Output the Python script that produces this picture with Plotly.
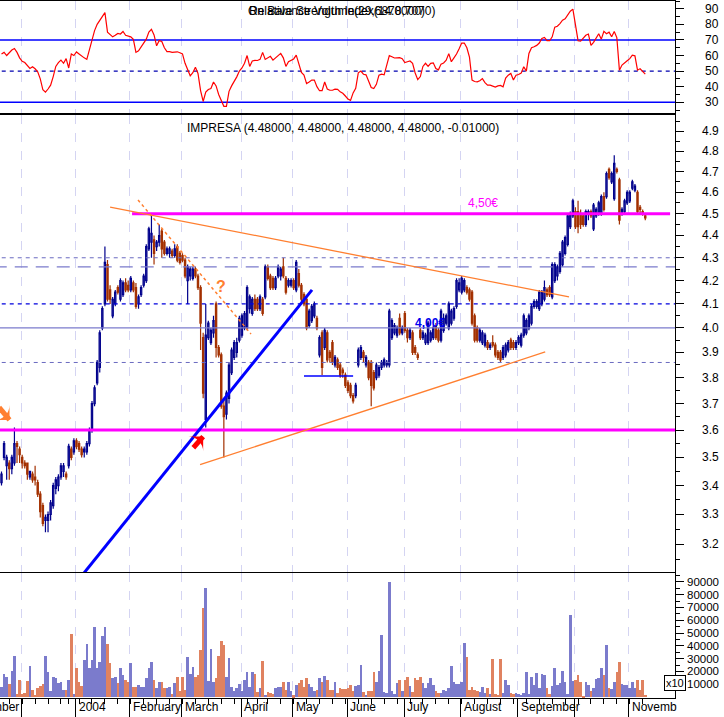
import math
import pandas as pd
import plotly.graph_objects as go

# ---------------- calendar (Euronext Lisbon trading days) ----------------
holidays = ["2003-12-25", "2003-12-26", "2004-01-01", "2004-04-09", "2004-04-12"]
trading_days = pd.bdate_range("2003-11-19", "2004-11-09")
trading_days = trading_days[~trading_days.isin(pd.to_datetime(holidays))]

# label shown after each month's first trading day ("" = no label)
month_label_text = {12: "", 1: "2004", 2: "February", 3: "March", 4: "April", 5: "May",
                    6: "June", 7: "July", 8: "August", 9: "September", 10: "", 11: "Novemb"}
left_cut_label = "November"

# ---------------- IMPRESA daily prices ----------------
opens = [3.41,3.50,3.47,3.48,3.46,3.48,3.55,3.53,3.50,3.48,
         3.48,3.43,3.44,3.43,3.41,3.37,3.33,3.28,3.28,3.30,
         3.33,3.39,3.40,3.43,3.45,3.44,3.47,3.53,3.52,3.56,
         3.55,3.53,3.52,3.52,3.55,3.60,3.70,3.78,3.84,4.00,
         4.10,4.27,4.16,4.05,4.10,4.17,4.12,4.14,4.19,4.18,
         4.16,4.19,4.17,4.10,4.14,4.18,4.20,4.34,4.37,4.38,
         4.35,4.37,4.42,4.37,4.32,4.32,4.33,4.31,4.35,4.32,
         4.31,4.29,4.20,4.22,4.21,4.25,4.22,4.17,3.96,3.64,
         3.96,3.94,3.98,4.10,3.92,3.89,3.69,3.66,3.72,3.82,
         3.88,3.90,3.95,3.97,4.00,4.00,4.08,4.06,4.12,4.12,
         4.08,4.12,4.13,4.26,4.22,4.21,4.17,4.22,4.22,4.26,
         4.21,4.18,4.18,4.20,4.16,4.23,4.18,4.14,4.12,4.01,
         4.03,4.05,4.04,3.89,3.98,3.92,3.98,3.90,3.94,3.85,
         3.87,3.85,3.83,3.81,3.78,3.77,3.73,3.73,3.85,3.88,
         3.90,3.85,3.86,3.86,3.82,3.80,3.81,3.84,3.85,3.85,
         3.85,3.96,3.98,3.97,4.04,3.98,4.06,3.99,3.96,3.98,
         3.92,3.89,3.99,3.96,3.94,3.94,3.95,3.96,4.01,3.99,
         3.95,3.99,4.02,4.00,4.02,4.04,4.09,4.16,4.15,4.16,
         4.17,4.16,4.15,4.05,4.00,3.95,3.94,3.93,3.94,3.92,
         3.94,3.93,3.90,3.90,3.88,3.89,3.91,3.95,3.94,3.92,
         3.94,3.93,3.97,3.98,4.00,4.02,4.09,4.09,4.08,4.10,
         4.12,4.16,4.17,4.13,4.20,4.22,4.24,4.27,4.32,4.36,
         4.44,4.49,4.51,4.51,4.50,4.49,4.45,4.50,4.51,4.43,
         4.49,4.50,4.50,4.58,4.58,4.71,4.65,4.57,4.71,4.66,
         4.50,4.51,4.55,4.56,4.62,4.61,4.60,4.53,4.51,4.49]
highs = [3.45,3.56,3.51,3.49,3.51,3.61,3.56,3.54,3.51,3.49,
         3.48,3.45,3.45,3.47,3.42,3.38,3.34,3.30,3.31,3.35,
         3.41,3.43,3.44,3.48,3.48,3.45,3.55,3.54,3.57,3.57,
         3.56,3.54,3.54,3.56,3.61,3.71,3.77,3.87,3.99,4.09,
         4.35,4.29,4.18,4.13,4.16,4.18,4.21,4.20,4.21,4.20,
         4.22,4.20,4.19,4.14,4.18,4.23,4.36,4.44,4.50,4.40,
         4.38,4.45,4.43,4.38,4.35,4.35,4.34,4.36,4.36,4.33,
         4.32,4.30,4.27,4.26,4.26,4.26,4.23,4.18,3.98,4.10,
         4.03,4.00,4.05,4.11,3.93,3.90,3.72,3.75,3.86,3.92,
         3.95,3.96,4.05,4.06,4.07,4.18,4.14,4.13,4.14,4.13,
         4.14,4.13,4.27,4.27,4.23,4.22,4.22,4.27,4.26,4.30,
         4.22,4.21,4.21,4.21,4.29,4.25,4.19,4.15,4.13,4.08,
         4.10,4.11,4.05,3.97,3.99,4.00,3.99,3.91,3.95,3.89,
         3.88,3.86,3.84,3.82,3.79,3.78,3.74,3.78,3.92,3.93,
         3.91,3.89,3.87,3.87,3.83,3.86,3.85,3.87,3.88,3.87,
         4.08,4.04,4.02,4.01,4.06,4.01,4.07,4.00,4.00,3.99,
         3.93,3.90,4.00,3.99,3.98,4.03,3.99,4.01,4.02,4.00,
         4.08,4.06,4.06,4.11,4.08,4.09,4.21,4.21,4.22,4.21,
         4.18,4.17,4.16,4.06,4.01,4.00,3.99,3.98,3.95,3.94,
         3.97,3.94,3.91,3.91,3.93,3.94,3.95,3.96,3.95,3.95,
         3.97,3.98,4.06,4.04,4.06,4.10,4.12,4.12,4.16,4.16,
         4.20,4.17,4.18,4.28,4.28,4.27,4.33,4.38,4.40,4.50,
         4.51,4.57,4.53,4.56,4.52,4.50,4.52,4.52,4.52,4.55,
         4.53,4.56,4.59,4.60,4.70,4.72,4.70,4.78,4.72,4.67,
         4.53,4.57,4.61,4.61,4.66,4.64,4.61,4.54,4.52,4.50]
lows = [3.40,3.49,3.42,3.42,3.44,3.47,3.48,3.48,3.46,3.46,
        3.42,3.42,3.41,3.40,3.36,3.29,3.26,3.24,3.24,3.28,
        3.32,3.37,3.38,3.42,3.43,3.42,3.46,3.49,3.51,3.53,
        3.52,3.50,3.50,3.51,3.54,3.59,3.69,3.77,3.82,3.99,
        4.09,4.11,4.10,4.04,4.09,4.14,4.11,4.13,4.15,4.15,
        4.15,4.15,4.08,4.08,4.13,4.17,4.19,4.33,4.30,4.27,
        4.33,4.35,4.30,4.31,4.31,4.30,4.30,4.30,4.28,4.27,
        4.28,4.21,4.10,4.20,4.20,4.21,4.16,3.91,3.72,3.61,
        3.95,3.93,3.96,3.88,3.88,3.68,3.50,3.64,3.70,3.81,
        3.87,3.88,3.94,3.96,3.99,3.99,4.06,4.05,4.07,4.07,
        4.07,4.05,4.12,4.20,4.16,4.16,4.16,4.21,4.20,4.21,
        4.14,4.17,4.17,4.16,4.15,4.17,4.11,4.09,3.99,4.00,
        4.02,4.04,3.99,3.88,3.81,3.91,3.86,3.86,3.85,3.84,
        3.83,3.80,3.80,3.76,3.74,3.72,3.70,3.72,3.84,3.87,
        3.86,3.84,3.79,3.69,3.75,3.79,3.80,3.83,3.84,3.84,
        3.84,3.95,3.97,3.96,3.97,3.97,3.98,3.94,3.95,3.89,
        3.89,3.87,3.95,3.95,3.93,3.93,3.94,3.95,3.95,3.94,
        3.94,3.98,4.01,3.99,4.01,4.03,4.08,4.15,4.14,4.15,
        4.14,4.11,4.01,3.94,3.94,3.94,3.93,3.92,3.91,3.91,
        3.92,3.88,3.87,3.86,3.87,3.88,3.90,3.91,3.91,3.91,
        3.93,3.92,3.96,3.97,3.99,4.01,4.08,4.08,4.07,4.09,
        4.11,4.13,4.13,4.12,4.19,4.20,4.23,4.26,4.31,4.35,
        4.43,4.48,4.43,4.41,4.43,4.44,4.44,4.47,4.48,4.42,
        4.48,4.49,4.49,4.51,4.57,4.66,4.64,4.56,4.69,4.45,
        4.49,4.50,4.54,4.55,4.61,4.60,4.50,4.50,4.49,4.47]
closes = [3.44,3.55,3.50,3.46,3.50,3.55,3.54,3.51,3.48,3.47,
          3.44,3.45,3.42,3.42,3.37,3.31,3.27,3.29,3.30,3.34,
          3.40,3.42,3.43,3.47,3.47,3.43,3.54,3.50,3.56,3.54,
          3.53,3.51,3.53,3.55,3.60,3.70,3.76,3.86,3.98,4.08,
          4.28,4.12,4.12,4.12,4.15,4.15,4.20,4.19,4.16,4.16,
          4.21,4.16,4.09,4.13,4.17,4.22,4.35,4.43,4.41,4.32,
          4.37,4.40,4.34,4.32,4.34,4.34,4.31,4.34,4.29,4.28,
          4.29,4.22,4.26,4.25,4.25,4.22,4.17,4.02,3.74,3.97,
          4.02,3.99,4.03,3.92,3.89,3.69,3.65,3.74,3.85,3.91,
          3.94,3.94,4.04,4.05,4.06,4.17,4.13,4.12,4.08,4.08,
          4.13,4.06,4.26,4.21,4.17,4.17,4.21,4.26,4.25,4.22,
          4.15,4.20,4.20,4.17,4.28,4.18,4.12,4.10,4.00,4.07,
          4.09,4.10,4.00,3.96,3.84,3.99,3.87,3.88,3.86,3.88,
          3.84,3.81,3.82,3.77,3.75,3.73,3.71,3.77,3.91,3.92,
          3.88,3.88,3.80,3.77,3.76,3.85,3.84,3.86,3.87,3.86,
          4.07,4.03,4.01,4.00,3.98,4.00,3.99,3.96,3.99,3.90,
          3.90,3.88,3.96,3.98,3.97,4.02,3.98,4.00,3.96,3.95,
          4.07,4.04,4.05,4.10,4.07,4.08,4.20,4.19,4.21,4.20,
          4.15,4.12,4.02,3.95,3.95,3.99,3.98,3.97,3.92,3.93,
          3.93,3.89,3.88,3.87,3.92,3.93,3.94,3.92,3.92,3.94,
          3.96,3.97,4.05,4.03,4.05,4.09,4.11,4.11,4.15,4.15,
          4.17,4.14,4.14,4.27,4.27,4.26,4.32,4.37,4.39,4.49,
          4.50,4.56,4.44,4.44,4.45,4.45,4.51,4.51,4.49,4.54,
          4.52,4.55,4.58,4.52,4.69,4.67,4.69,4.74,4.70,4.47,
          4.52,4.56,4.60,4.60,4.65,4.63,4.51,4.52,4.50,4.48]

# ---------------- Relative Strength Index ----------------
rsi = [61,62,60,62,63.5,64.5,62,58.5,56.3,55.5,
       53.5,51.7,52.8,51.5,49.5,45,38,36.5,38.5,41,
       46.5,53,55.4,57,55,58,52,61,60,62.3,
       61,59.5,58.5,57.5,63.5,70.5,76,80,82.5,85,
       87.5,75,73.2,72,73,74.2,73.8,75.4,73,72.4,
       72,70.4,62,63,65.5,68.5,70.5,75,76.8,73.2,
       66.2,69.6,69,65,62.5,62.5,62,62.2,62.4,61.8,
       61,55,50.5,47,49,52.5,48.5,37.5,30.5,36.5,
       38.2,38.8,43,40.5,35,31,27.4,27.4,37,40.5,
       43,46.3,50,52,55,60,53,56.5,56.9,56.8,
       57.5,62,57.5,58.5,59.5,57,58.5,60.3,61.4,58.5,
       53,56,56.8,57.8,60.3,54.5,49.2,47.5,42,43,
       44.2,44.2,40,37.4,37.5,43,38.5,37.7,37.7,38.4,
       38.3,36.7,35.8,34,32,31.2,36,39,48.9,50,
       48,47.6,44,39.5,38.8,41.5,47.4,48,47.6,53,
       60,59.2,58.4,58.5,58.6,58,55.5,56,56.5,55,
       48.8,44.5,46.5,53,55,53,55,55.3,51.6,50.8,
       54.5,55.2,57,61.2,56,58.5,61,64.4,68,68,
       65,59,44.2,43.3,43.1,43.8,45.2,42.6,41,41,
       40.2,39.7,40.5,40.8,39.9,45.5,47.4,48.5,44.3,47.4,
       47.8,48.7,52.8,50,61.3,65,65.6,66.5,68,71,
       71.6,69.5,69.5,72,78.2,78.8,80.5,82.7,83.6,86,
       88.4,89.8,79.5,69.5,69.2,71,73,73.8,66.5,68.5,
       71.5,74,70.5,75.5,74,75,72,75.4,71.5,50.6,
       53.9,55.5,56.6,58,60.2,59.8,50.6,51.5,49.6,48.1]

# ---------------- Volume ----------------
volume = [8200,17700,16000,10300,20300,32000,2300,13300,2300,3000,
          12600,24400,5100,1800,6900,9000,10000,32000,19700,4400,
          15900,14600,10800,12000,5600,5600,13000,49200,2300,22800,
          12000,9000,28700,41500,22300,28700,54400,22800,27400,48000,
          54400,41500,26200,14600,15900,10800,22300,17200,13300,12000,
          26900,8200,8200,9500,8200,8200,14600,22300,27400,13300,
          7400,11500,11500,6900,6900,8200,2300,10800,15900,4400,
          15900,5600,31300,17700,23600,15900,17200,36400,69700,85100,
          12600,37700,12000,14600,32000,44100,40800,15900,30500,8200,
          4400,7400,10000,4400,13300,19200,8200,19200,17700,3800,
          7400,28000,1800,3800,3000,2300,7400,8200,8200,11500,
          5600,11500,4400,1300,9500,10800,13300,8200,15100,10000,
          8200,4900,5600,15100,12000,16700,13300,5600,5600,12000,
          3000,7400,6400,6400,7400,9500,4900,9000,9500,24900,
          3800,1800,4900,4400,19200,11500,20500,48500,3800,3000,
          89500,4400,2300,10800,13300,4900,13300,15900,9000,3800,
          14600,13300,15900,10800,6900,10800,15100,9500,4900,3000,
          3000,5600,4900,6900,24400,12000,10000,10000,12000,42300,
          31300,5600,8200,5600,4400,3800,8200,3000,6900,2300,
          30000,2300,1800,29500,3000,13300,9500,3000,2300,3000,
          2300,1800,3000,19700,2300,15900,9500,18500,6900,17700,
          17200,7400,2300,9000,22800,9500,10800,20300,12000,2300,
          63800,12600,13300,17200,11500,500,11500,9500,4900,6900,
          14100,14600,22800,17200,40300,6900,6400,11500,19200,27400,
          10000,9500,9500,6900,12000,6900,13300,5600,13300,1800]

# ---------------- drawn levels / trendlines (trading-day index, price) ----------------
support_resistance = [4.50, 3.60]
dashed_levels = [4.30, 3.86]
long_dash_level = 4.26
blue_dash_level = 4.10
solid_level = 4.00
res_450_span = (50.5, 258.6)
falling_line = [(42.0, 4.531), (219.5, 4.130)]
dotted_line = [(52.8, 4.564), (96.5, 3.975)]
rising_line = [(76.8, 3.474), (210.3, 3.902)]
blue_trend = [(28.4, 3.071), (120.1, 4.160)]
blue_short = [(117.0, 3.807), (136.0, 3.807)]
orange_arrow = [(-0.9, 3.685), (3.1, 3.638)]   # tail -> head
red_arrow = [(74.2, 3.535), (78.0, 3.576)]     # tail -> head
rsi_levels = [70, 50, 30]

price_ticks = [3.2, 3.3, 3.4, 3.5, 3.6, 3.7, 3.8, 3.9, 4.0, 4.1, 4.2, 4.3, 4.4, 4.5, 4.6, 4.7, 4.8, 4.9]
rsi_ticks = [30, 40, 50, 60, 70, 80, 90]
vol_ticks = [10000, 20000, 30000, 40000, 50000, 60000, 70000, 80000, 90000]

# ---------------- derived ----------------
n = len(closes)
x = list(range(n))
month_idx = [i for i in range(1, n) if trading_days[i].month != trading_days[i - 1].month]
week_idx = [i for i in range(1, n) if trading_days[i].weekday() < trading_days[i - 1].weekday()]

W, H = 724, 717
ML, MR, MT, MB = 0, 49, 0, 19
PW, PH = W - ML - MR, H - MT - MB


def pxx(px):
    return (px - ML) / PW


def pxy(py):
    return (PH + MT - py) / PH


FONT = "Liberation Sans, Arial, sans-serif"
UP_COL, DN_COL = "#00008c", "#a33000"
VUP, VDN = "#7b7bcc", "#e08260"
ORANGE = "#ff7f30"
MAGENTA = "#ff00ff"

fig = go.Figure()


def line_trace(pts, color, width, dash="solid", xa="x2", ya="y2"):
    return go.Scatter(x=[p[0] for p in pts], y=[p[1] for p in pts], mode="lines",
                      line=dict(color=color, width=width, dash=dash),
                      xaxis=xa, yaxis=ya, hoverinfo="skip", showlegend=False)


def arrow_head(pt, color, angle):
    return go.Scatter(x=[pt[0]], y=[pt[1]], mode="markers",
                      marker=dict(symbol="arrow-wide", size=15, angle=angle, color=color,
                                  line=dict(width=0)),
                      xaxis="x2", yaxis="y2", hoverinfo="skip", showlegend=False, cliponaxis=False)


XL, XR = -3, 263
# RSI panel
for lv in rsi_levels:
    fig.add_trace(line_trace([(XL, lv), (XR, lv)], "#0000ff" if lv != 50 else "#0000b0",
                             1.5 if lv != 50 else 1.3, "solid" if lv != 50 else "4px,4px", "x", "y"))
fig.add_trace(go.Scatter(x=x, y=rsi, mode="lines", line=dict(color="#ff0000", width=1.2),
                         xaxis="x", yaxis="y", hoverinfo="skip", showlegend=False))

# price panel: background levels
for lv in dashed_levels:
    fig.add_trace(line_trace([(XL, lv), (XR, lv)], "#6a6ac0", 1, "4px,4px"))
fig.add_trace(line_trace([(XL, long_dash_level), (XR, long_dash_level)], "#7b7bcc", 1.3, "13px,8px"))
fig.add_trace(line_trace([(XL, blue_dash_level), (XR, blue_dash_level)], "#0000dd", 1.3, "4px,4px"))
fig.add_trace(line_trace([(XL, solid_level), (XR, solid_level)], "#7b7bcc", 1.2))

fig.add_trace(go.Candlestick(
    x=x, open=opens, high=highs, low=lows, close=closes, xaxis="x2", yaxis="y2",
    increasing=dict(line=dict(color=UP_COL, width=1.2), fillcolor="white"),
    decreasing=dict(line=dict(color=DN_COL, width=1.2), fillcolor=DN_COL),
    whiskerwidth=0, hoverinfo="skip", showlegend=False))

# overlays
fig.add_trace(line_trace([(res_450_span[0], support_resistance[0]), (res_450_span[1], support_resistance[0])], MAGENTA, 3))
fig.add_trace(line_trace([(XL, support_resistance[1]), (XR, support_resistance[1])], MAGENTA, 3))
fig.add_trace(line_trace(falling_line, ORANGE, 1.3))
fig.add_trace(line_trace(dotted_line, ORANGE, 1.5, "dot"))
fig.add_trace(line_trace(rising_line, ORANGE, 1.3))
fig.add_trace(line_trace(blue_trend, "#0000ff", 3))
fig.add_trace(line_trace(blue_short, "#0000ff", 1.5))
# hand-drawn arrows
fig.add_trace(line_trace(orange_arrow, ORANGE, 5))
fig.add_trace(arrow_head(orange_arrow[1], ORANGE, 135))
fig.add_trace(line_trace(red_arrow, "#ff0000", 5))
fig.add_trace(arrow_head(red_arrow[1], "#ff0000", 45))

# volume
vcolors = [VUP if c >= o else VDN for o, c in zip(opens, closes)]
fig.add_trace(go.Bar(x=x, y=volume, marker=dict(color=vcolors, line=dict(width=0)),
                     xaxis="x3", yaxis="y3", hoverinfo="skip", showlegend=False))

grid_vals = [m - 0.3 for m in month_idx]
xcommon = dict(range=[-0.58, 260.5], showgrid=True, gridcolor="#d4d4f2", griddash="dash", gridwidth=1,
               tickmode="array", tickvals=grid_vals, showline=True, mirror=True, linecolor="black",
               linewidth=1, zeroline=False, fixedrange=True, rangeslider=dict(visible=False),
               automargin=False)

ycommon = dict(side="right", tickmode="array", ticks="outside", ticklen=8, tickcolor="black",
               showticklabels=False, showline=True, linecolor="black", showgrid=False,
               zeroline=False, fixedrange=True, automargin=False)

fig.update_layout(
    width=W, height=H, margin=dict(l=ML, r=MR, t=MT, b=MB, autoexpand=False),
    paper_bgcolor="white", plot_bgcolor="white", showlegend=False, bargap=0,
    font=dict(family=FONT, size=12, color="black"),
    xaxis=dict(**xcommon, domain=[0, 1], anchor="y", showticklabels=False, ticks=""),
    xaxis2=dict(**xcommon, domain=[0, 1], anchor="y2", showticklabels=False, ticks=""),
    xaxis3=dict(**xcommon, domain=[0, 1], anchor="y3", showticklabels=False, ticks="outside",
                ticklen=19, tickcolor="black", tickwidth=1,
                minor=dict(tickmode="array", tickvals=week_idx, ticks="outside", ticklen=5,
                           tickcolor="black", showgrid=False)),
    yaxis=dict(**ycommon, domain=[pxy(113), pxy(1)], range=[23.1, 95.0], anchor="x",
               tickvals=rsi_ticks,
               minor=dict(tickmode="array", tickvals=[25, 35, 45, 55, 65, 75, 85, 95], ticks="outside",
                          ticklen=4, tickcolor="black")),
    yaxis2=dict(**ycommon, domain=[pxy(572), pxy(115)], type="log",
                range=[math.log10(3.110), math.log10(4.982)], anchor="x2",
                tickvals=price_ticks,
                minor=dict(tickmode="array", tickvals=[round(v + 0.05, 2) for v in [3.1] + price_ticks],
                           ticks="outside", ticklen=4, tickcolor="black")),
    yaxis3=dict(**ycommon, domain=[0, pxy(573)], range=[-770, 96900], anchor="x3",
                tickvals=vol_ticks,
                minor=dict(tickmode="array", tickvals=[v - 5000 for v in vol_ticks] + [95000],
                           ticks="outside", ticklen=4, tickcolor="black")),
)

ann = []
LABEL_X = pxx(721)
# right-hand axis labels (right aligned like the reference)
for v in rsi_ticks:
    ann.append(dict(x=LABEL_X, y=v, xref="paper", yref="y", text=str(v), showarrow=False,
                    xanchor="right", yanchor="middle", font=dict(size=12)))
for v in price_ticks:
    ann.append(dict(x=LABEL_X, y=math.log10(v), xref="paper", yref="y2", text=f"{v:.1f}",
                    showarrow=False, xanchor="right", yanchor="middle", font=dict(size=12)))
for v in vol_ticks:
    ann.append(dict(x=LABEL_X, y=v, xref="paper", yref="y3", text=str(v), showarrow=False,
                    xanchor="right", yanchor="middle", font=dict(size=11.5)))
# month labels
for m in month_idx:
    txt = month_label_text[trading_days[m].month]
    if txt:
        ann.append(dict(x=m - 0.3, y=pxy(707), xref="x3", yref="paper", text=txt, showarrow=False,
                        xanchor="left", yanchor="middle", xshift=1, font=dict(size=12)))
ann.append(dict(x=month_idx[0] - 0.6, y=pxy(707), xref="x3", yref="paper", text=left_cut_label,
                showarrow=False, xanchor="right", yanchor="middle", font=dict(size=12)))
# titles
ann.append(dict(x=pxx(185), y=pxy(128), xref="paper", yref="paper", showarrow=False, xanchor="left",
                yanchor="middle", text="IMPRESA (4.48000, 4.48000, 4.48000, 4.48000, -0.01000)",
                font=dict(size=12)))
ann.append(dict(x=pxx(247), y=pxy(11), xref="paper", yref="paper", showarrow=False, xanchor="left",
                yanchor="middle", text="Relative Strength Index(14.0000)", font=dict(size=12)))
ann.append(dict(x=pxx(246), y=pxy(11), xref="paper", yref="paper", showarrow=False, xanchor="left",
                yanchor="middle", text="On Balance Volume(29,6878,7070)", font=dict(size=12)))
# chart notes
ann.append(dict(x=186.3, y=math.log10(4.55), xref="x2", yref="y2", text="4,50€", showarrow=False,
                font=dict(size=12, color=MAGENTA)))
ann.append(dict(x=165.8, y=math.log10(4.02), xref="x2", yref="y2", text="<b>4,00€</b>", showarrow=False,
                font=dict(size=12, color="#0000ee")))
ann.append(dict(x=84.8, y=math.log10(4.174), xref="x2", yref="y2", text="<b>?</b>", showarrow=False,
                font=dict(size=16, color=ORANGE)))
# volume multiplier box
ann.append(dict(x=pxx(686), y=pxy(691), xref="paper", yref="paper", text="x10", showarrow=False,
                bordercolor="black", borderwidth=1, borderpad=1, bgcolor="white",
                font=dict(size=11)))
fig.update_layout(annotations=ann)

# the page's default 8px body margin would shift the chart; remove it
fig.write_html("out.html", config={"displayModeBar": False},
               post_script="document.body.style.margin='0';document.body.style.overflow='hidden';")
